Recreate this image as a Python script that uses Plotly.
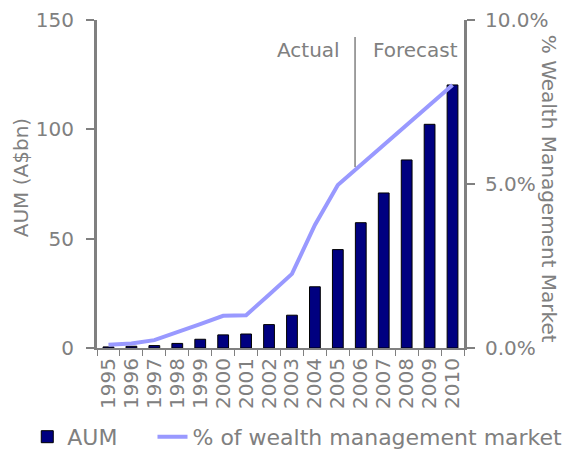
import plotly.graph_objects as go

years = [str(y) for y in range(1995, 2011)]
aum = [0.5, 0.8, 1.1, 2.1, 4.0, 6.0, 6.4, 10.7, 15.0, 28.0, 45.0, 57.3, 70.9, 86.0, 102.3, 120.3]
share_pct = [0.10, 0.14, 0.24, 0.47, 0.73, 0.98, 1.00, 1.62, 2.26, 3.75, 4.97, 5.58, 6.19, 6.80, 7.41, 8.02]

grey = "#808080"
font = dict(family="DejaVu Sans", size=20, color=grey)
lfont = dict(family="DejaVu Sans", size=22, color=grey)

fig = go.Figure()
fig.add_trace(go.Bar(
    x=years, y=aum, name="AUM",
    marker=dict(color="#000080", line=dict(color="black", width=1)),
    width=0.47, legend="legend",
))
fig.add_trace(go.Scatter(
    x=years, y=share_pct, name="% of wealth management market",
    mode="lines", line=dict(color="#9999FF", width=4), yaxis="y2",
    legend="legend2",
))

fig.update_layout(
    width=567, height=451,
    margin=dict(l=97, r=103, t=20, b=103, autoexpand=False),
    paper_bgcolor="white", plot_bgcolor="white",
    font=font,
    showlegend=True,
    legend=dict(orientation="h", x=-0.19, y=-0.271, xanchor="left", yanchor="middle",
                font=lfont, itemwidth=30, bgcolor="rgba(0,0,0,0)"),
    legend2=dict(orientation="h", x=1.282, y=-0.271, xanchor="right", yanchor="middle",
                 font=lfont, itemwidth=30, bgcolor="rgba(0,0,0,0)"),
    xaxis=dict(type="category", showline=True, linecolor=grey, linewidth=2,
               ticks="outside", tickcolor=grey, ticklen=6, tickson="boundaries",
               tickmode="linear", dtick=1, automargin=False,
               tickangle=-90, showgrid=False, tickfont=font),
    yaxis=dict(range=[0, 150], tickvals=[0, 50, 100, 150], showline=True,
               linecolor=grey, linewidth=3, ticks="outside", tickcolor=grey,
               ticklen=8, tickwidth=2, showgrid=False, zeroline=False, automargin=False,
               ticklabelstandoff=8, tickfont=font),
    yaxis2=dict(range=[0, 10], tickvals=[0, 5, 10], ticktext=["0.0%", "5.0%", "10.0%"],
                overlaying="y", side="right", showline=True, linecolor=grey,
                linewidth=3, ticks="outside", tickcolor=grey, ticklen=8, tickwidth=2,
                showgrid=False, zeroline=False, tickfont=font, ticklabelstandoff=6,
                automargin=False),
)

fig.add_annotation(text="AUM (A$bn)", xref="paper", yref="paper", x=-0.205, y=0.52,
                   xanchor="center", yanchor="middle",
                   textangle=-90, showarrow=False, font=font)
fig.add_annotation(text="% Wealth Management Market", xref="paper", yref="paper",
                   x=1.232, y=0.485, xanchor="center", yanchor="middle",
                   textangle=90, showarrow=False, font=font)

fig.add_shape(type="line", xref="x", yref="y2", x0=10.75, x1=10.75, y0=5.52, y1=9.48,
              line=dict(color=grey, width=1.5))
fig.add_annotation(text="Actual", xref="x", yref="y2", x=8.7, y=9.1,
                   showarrow=False, font=font)
fig.add_annotation(text="Forecast", xref="x", yref="y2", x=13.4, y=9.1,
                   showarrow=False, font=font)

fig.write_html("out.html")
